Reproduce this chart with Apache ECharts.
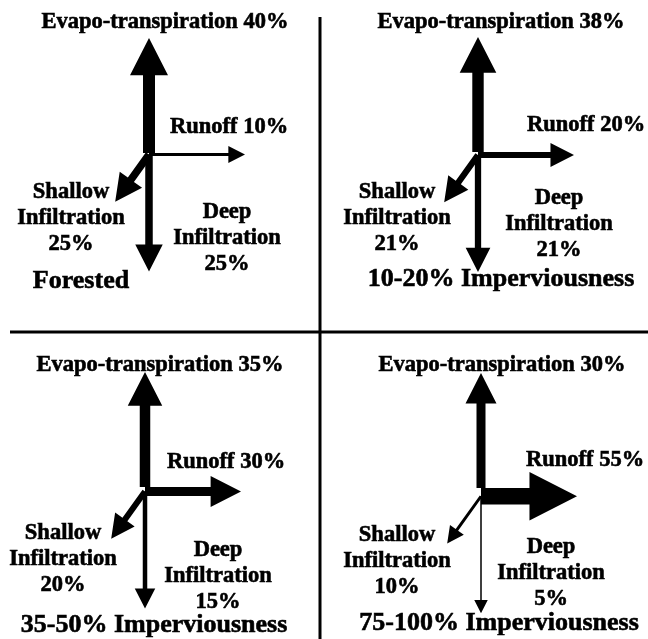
<!DOCTYPE html>
<html>
<head>
<meta charset="utf-8">
<script src="https://cdn.jsdelivr.net/npm/echarts@6/dist/echarts.min.js"></script>
<style>
  html, body { margin: 0; padding: 0; background: #fff; }
  #main { width: 648px; height: 639px; }
</style>
</head>
<body>
<div id="main"></div>
<script>
// scenarios (one panel each) and water budget shares, in %
const scenarios = ["Forested", "10-20% Imperviousness", "35-50% Imperviousness", "75-100% Imperviousness"];
const flowNames = ["Evapo-transpiration", "Runoff", "Shallow\nInfiltration", "Deep\nInfiltration"];
const evapo = [40, 38, 35, 30];
const runoff = [10, 20, 30, 55];
const shallow = [25, 21, 20, 10];
const deep = [25, 21, 15, 5];

// layout of the 2x2 panels
const centers = [[149, 153], [478, 152], [145, 487], [481, 488]];
const dirs = [[0, -1, 115], [1, 0, 96], [-0.583, 0.813, 58], [0, 1, 117]]; // unit vector + length
const labelPos = [
  [[165, 22], [170, 127], [71, 218], [227, 238]],
  [[501, 22], [527, 125], [397, 218], [559, 224]],
  [[160, 365], [167, 462], [63, 559], [218, 576]],
  [[502, 365], [526, 460], [397, 561], [551, 573]]
];
const titlePos = [[81, 281], [501, 279], [154, 625], [499, 623]];

const FONT = "bold 22.5px 'Liberation Serif', 'Times New Roman', serif";
const TITLE_FONT = "bold 26px 'Liberation Serif', 'Times New Roman', serif";

const seriesData = [];
[evapo, runoff, shallow, deep].forEach(function (arr, f) {
  arr.forEach(function (v, p) { seriesData.push([p, f, v]); });
});

function shaftW(v) { return Math.max(1.3, 0.3 * v); }
function headW(v) { return 0.7 * v + 10; }

function renderArrow(params, api) {
  const p = api.value(0), f = api.value(1), v = api.value(2);
  const c = centers[p];
  const d = dirs[f];
  let ox = c[0], oy = c[1];
  const w = shaftW(v);
  const rw = shaftW(runoff[p]);
  if (f === 1) oy += w / 2;            // runoff hangs below the junction
  if (f === 2 || f === 3) oy += rw / 2; // infiltration leaves from runoff axis
  const ux = d[0], uy = d[1], L = d[2];
  const nx = -uy, ny = ux;
  const hw = headW(v), hl = hw * 0.98;
  const b = L - hl;
  const pts = [
    [ox + nx * w / 2, oy + ny * w / 2],
    [ox + ux * b + nx * w / 2, oy + uy * b + ny * w / 2],
    [ox + ux * b + nx * hw / 2, oy + uy * b + ny * hw / 2],
    [ox + ux * L, oy + uy * L],
    [ox + ux * b - nx * hw / 2, oy + uy * b - ny * hw / 2],
    [ox + ux * b - nx * w / 2, oy + uy * b - ny * w / 2],
    [ox - nx * w / 2, oy - ny * w / 2]
  ].map(function (pt) { return api.coord(pt); });
  const lp = api.coord(labelPos[p][f]);
  const sep = f < 2 ? " " : "\n";
  return {
    type: "group",
    children: [
      { type: "polygon", shape: { points: pts }, style: { fill: "#000" } },
      {
        type: "text",
        style: {
          text: flowNames[f] + sep + v + "%",
          x: lp[0], y: lp[1],
          font: FONT,
          fill: "#000",
          stroke: "#000",
          lineWidth: 0.6,
          align: f === 1 ? "left" : "center",
          verticalAlign: "middle",
          lineHeight: 26
        }
      }
    ]
  };
}

const chart = echarts.init(document.getElementById("main"));
chart.setOption({
  animation: false,
  backgroundColor: "#fff",
  grid: { left: 0, right: 0, top: 0, bottom: 0 },
  xAxis: { type: "value", min: 0, max: 648, show: false },
  yAxis: { type: "value", min: 0, max: 639, inverse: true, show: false },
  graphic: [
    { type: "line", shape: { x1: 320, y1: 17, x2: 320, y2: 639 }, style: { stroke: "#000", lineWidth: 3 } },
    { type: "line", shape: { x1: 10, y1: 332, x2: 648, y2: 332 }, style: { stroke: "#000", lineWidth: 3 } }
  ].concat(scenarios.map(function (s, i) {
    return {
      type: "text",
      style: {
        text: s, x: titlePos[i][0], y: titlePos[i][1],
        font: TITLE_FONT, fill: "#000", stroke: "#000", lineWidth: 0.6,
        align: "center", verticalAlign: "middle"
      }
    };
  })),
  series: [{
    type: "custom",
    renderItem: renderArrow,
    data: seriesData,
    silent: true
  }]
});
</script>
</body>
</html>
